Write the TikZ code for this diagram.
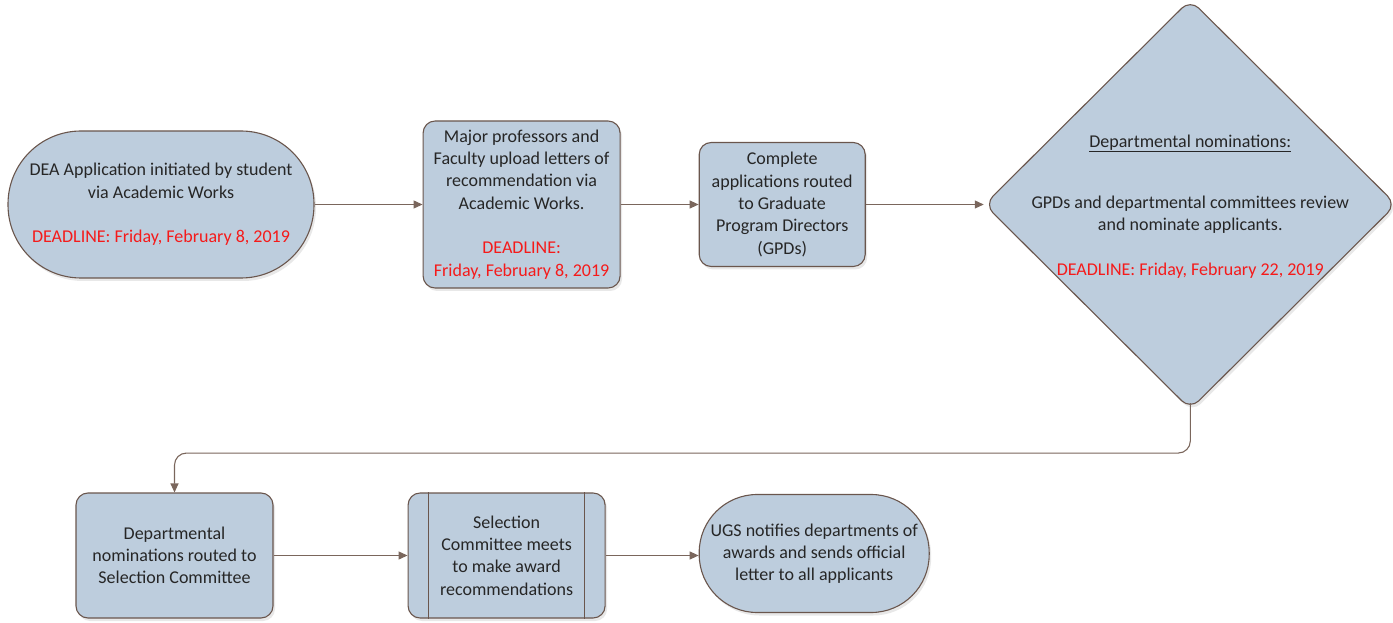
\documentclass[tikz,border=0pt]{standalone}
\usepackage{fontspec}
\setmainfont{Carlito}
\usetikzlibrary{shapes.geometric,arrows.meta,positioning,shadows}
\definecolor{boxfill}{HTML}{BDCDDD}
\definecolor{boxline}{HTML}{6A564D}
\definecolor{arrline}{HTML}{7A665C}
\definecolor{dlred}{HTML}{F51A1A}
\tikzset{
  flownode/.style = {align=center, inner sep=0pt, text centered,
    font=\fontsize{18pt}{22.3pt}\selectfont, text=black!85, draw=boxline,
    fill=boxfill, line width=1.1pt,
    drop shadow={shadow xshift=2pt, shadow yshift=-3pt, opacity=0.18}},
  fl_term/.style = {flownode, rectangle, rounded corners=58pt},% start / end
  fl_box/.style = {flownode, rectangle, rounded corners=12pt},% step
  fl_dec/.style = {flownode, diamond, rounded corners=12pt},% decision
  dl/.style = {text=dlred}% deadline text
}

\begin{document}
\begin{tikzpicture}[x=1pt,y=1pt,>={Triangle[length=9pt,width=8pt]},
    every path/.style={line width=1.1pt}]
    \useasboundingbox (0,0) rectangle (1393,622);
    \node [fl_term, rounded corners=73pt, minimum width=306pt, minimum height=147pt](A) at (161,417.5)
        {DEA Application initiated by student\\ via Academic Works\\[22.3pt]
         \color{dlred}DEADLINE: Friday, February 8, 2019};
    \node [fl_box, minimum width=197pt, minimum height=167pt, right= 108pt of A](B)
        {Major professors and\\ Faculty upload letters of\\ recommendation via\\ Academic Works.\\[22.3pt]
         \color{dlred}DEADLINE:\\ \color{dlred}Friday, February 8, 2019};
    \node [fl_box, minimum width=166pt, minimum height=124pt, right= 78pt of B](C)
        {Complete\\ applications routed\\ to Graduate\\ Program Directors\\ (GPDs)};
    \node [fl_dec, minimum width=412pt, minimum height=410pt, right= 118pt of C](D) {};
    \node [align=center, font=\fontsize{18pt}{22.3pt}\selectfont, text=black!85](Dt) at ([yshift=-2pt]D.center)
        {\underline{Departmental nominations:}\\[39pt]
         GPDs and departmental committees review\\ and nominate applicants.\\[22pt]
         \color{dlred}DEADLINE: Friday, February 22, 2019};

    \node [fl_box, minimum width=197pt, minimum height=125pt](E) at (174.5,66.5)
        {Departmental\\ nominations routed to\\ Selection Committee};
    \node [fl_box, minimum width=197pt, minimum height=125pt, right= 134pt of E](F)
        {Selection\\ Committee meets\\ to make award\\ recommendations};
    \draw [boxline] ([xshift=21pt]F.north west) -- ([xshift=21pt]F.south west);
    \draw [boxline] ([xshift=-21pt]F.north east) -- ([xshift=-21pt]F.south east);
    \node [fl_term, minimum width=230pt, minimum height=118pt, right= 93pt of F, yshift=2pt](G)
        {UGS notifies departments of\\ awards and sends official\\ letter to all applicants};

    \draw [->, arrline] (A) -- (B);
    \draw [->, arrline] (B) -- (C);
    \draw [->, arrline] (C) -- (D);
    \draw [->, arrline, rounded corners=12pt] ([yshift=7pt]D.south) -- ++(0,-50) -| (E.north);
    \draw [->, arrline] (E) -- (F);
    \draw [->, arrline] (F) -- (F -| G.west);
\end{tikzpicture}
\end{document}
